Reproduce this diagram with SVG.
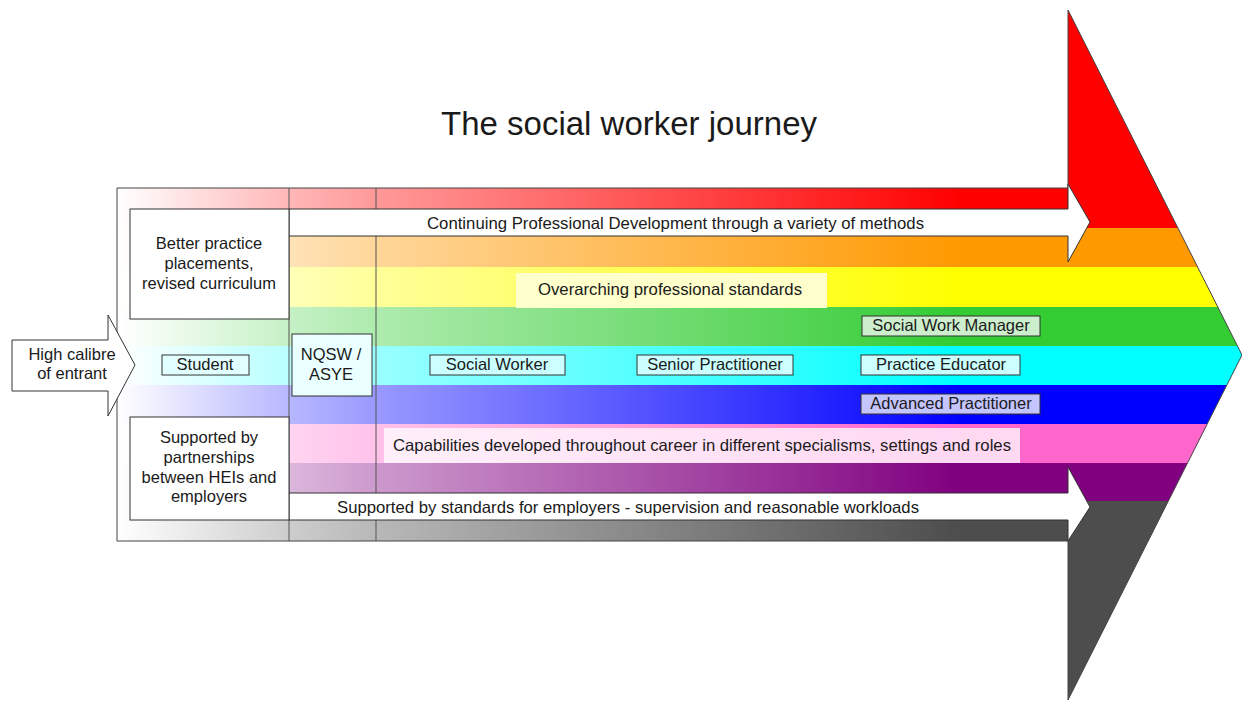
<svg xmlns="http://www.w3.org/2000/svg" width="1242" height="711" viewBox="0 0 1242 711">
<style>
text{font-family:"Liberation Sans",Arial,Helvetica,sans-serif;fill:#1a1a1a;text-anchor:middle}
.lbl{font-size:16.5px}
.title{font-size:33px}
.box{stroke:#333;stroke-width:1}
.wa{fill:#fff;stroke:#333;stroke-width:1;stroke-linejoin:miter}
.edge{fill:none;stroke:#444;stroke-width:1}
.div{stroke:#555;stroke-width:1}
</style>
<defs>
<clipPath id="arrowClip"><polygon points="117,188 1068,188 1068,10 1242,355 1068,700 1068,541 117,541"/></clipPath>
<linearGradient id="fade" gradientUnits="userSpaceOnUse" x1="117" y1="0" x2="1068" y2="0">
<stop offset="0" stop-color="#fff" stop-opacity="0"/>
<stop offset="0.18" stop-color="#fff" stop-opacity="0.28"/>
<stop offset="0.272" stop-color="#fff" stop-opacity="0.4"/>
<stop offset="0.886" stop-color="#fff" stop-opacity="1"/>
</linearGradient>
<mask id="fadeMask" maskUnits="userSpaceOnUse" x="0" y="0" width="1242" height="711"><rect x="0" y="0" width="1242" height="711" fill="url(#fade)"/></mask>
</defs>
<rect x="0" y="0" width="1242" height="711" fill="#fff"/>
<text class="title" x="629" y="135">The social worker journey</text>
<g id="big-arrow">
<g clip-path="url(#arrowClip)"><g mask="url(#fadeMask)">
<rect x="100" y="0" width="1150" height="229" fill="#ff0000"/>
<rect x="100" y="228" width="1150" height="39" fill="#ff9900"/>
<rect x="100" y="267" width="1150" height="40" fill="#ffff00"/>
<rect x="100" y="307" width="1150" height="39" fill="#33cc33"/>
<rect x="100" y="346" width="1150" height="39" fill="#00ffff"/>
<rect x="100" y="385" width="1150" height="39" fill="#0000ff"/>
<rect x="100" y="424" width="1150" height="39" fill="#ff66cc"/>
<rect x="100" y="463" width="1150" height="38" fill="#800080"/>
<rect x="100" y="501" width="1150" height="210" fill="#4d4d4d"/>
</g></g>
<polyline class="edge" points="1068,188 117,188 117,541 1068,541"/>
<polyline class="edge" points="1068,188 1068,10 1242,355 1068,700 1068,541"/>
<line class="div" x1="289" y1="188" x2="289" y2="541"/>
<line class="div" x1="376" y1="188" x2="376" y2="541"/>
</g>
<g id="connectors">
<polygon id="cpd-arrow" class="wa" points="289,209 1068,209 1068,184 1090,222 1068,262 1068,236 289,236"/>
<polygon id="support-arrow" class="wa" points="289,493 1068,493 1068,467 1090,507 1068,541 1068,520 289,520"/>
<polygon id="entrant-arrow" class="wa" points="12,340 108,340 108,315 135,365 108,416 108,391 12,391"/>
</g>
<text class="lbl" x="675.5" y="229" textLength="497" lengthAdjust="spacingAndGlyphs">Continuing Professional Development through a variety of methods</text>
<text class="lbl" x="628" y="513" textLength="582" lengthAdjust="spacingAndGlyphs">Supported by standards for employers - supervision and reasonable workloads</text>
<g id="entrant"><text class="lbl" x="72" y="360">High calibre</text><text class="lbl" x="72" y="379">of entrant</text></g>
<g id="placements">
<rect class="box" x="130" y="209" width="159" height="110" fill="#fff"/>
<text class="lbl" x="209" y="249">Better practice</text>
<text class="lbl" x="209" y="269">placements,</text>
<text class="lbl" x="209" y="289">revised curriculum</text>
</g>
<g id="partnerships">
<rect class="box" x="130" y="417" width="159" height="103" fill="#fff"/>
<text class="lbl" x="209" y="443">Supported by</text>
<text class="lbl" x="209" y="463">partnerships</text>
<text class="lbl" x="209" y="483">between HEIs and</text>
<text class="lbl" x="209" y="502">employers</text>
</g>
<g id="student">
<rect class="box" x="162" y="355" width="87" height="20" fill="#e2ffff"/>
<text class="lbl" x="205" y="370">Student</text>
</g>
<g id="nqsw">
<rect class="box" x="292" y="334" width="80" height="62" fill="#eaffff"/>
<text class="lbl" x="331" y="360">NQSW /</text>
<text class="lbl" x="331" y="380">ASYE</text>
</g>
<g id="standards">
<rect x="516" y="273" width="311" height="35" fill="#ffffcc"/>
<text class="lbl" x="670" y="295" textLength="264" lengthAdjust="spacingAndGlyphs">Overarching professional standards</text>
</g>
<g id="social-worker">
<rect class="box" x="430" y="355" width="135" height="20" fill="#ccffff"/>
<text class="lbl" x="497" y="370">Social Worker</text>
</g>
<g id="senior-practitioner">
<rect class="box" x="637" y="355" width="156" height="20" fill="#ccffff"/>
<text class="lbl" x="715" y="370">Senior Practitioner</text>
</g>
<g id="manager">
<rect class="box" x="862" y="316" width="178" height="20" fill="#cceecc"/>
<text class="lbl" x="951" y="331">Social Work Manager</text>
</g>
<g id="practice-educator">
<rect class="box" x="861" y="355" width="159" height="20" fill="#ccffff"/>
<text class="lbl" x="941" y="370">Practice Educator</text>
</g>
<g id="advanced-practitioner">
<rect class="box" x="861" y="394" width="179" height="20" fill="#c4c4ff"/>
<text class="lbl" x="951" y="409">Advanced Practitioner</text>
</g>
<g id="capabilities">
<rect x="384" y="428" width="636" height="35" fill="#fff" fill-opacity="0.75"/>
<text class="lbl" x="702" y="451" textLength="618" lengthAdjust="spacingAndGlyphs">Capabilities developed throughout career in different specialisms, settings and roles</text>
</g>
</svg>
